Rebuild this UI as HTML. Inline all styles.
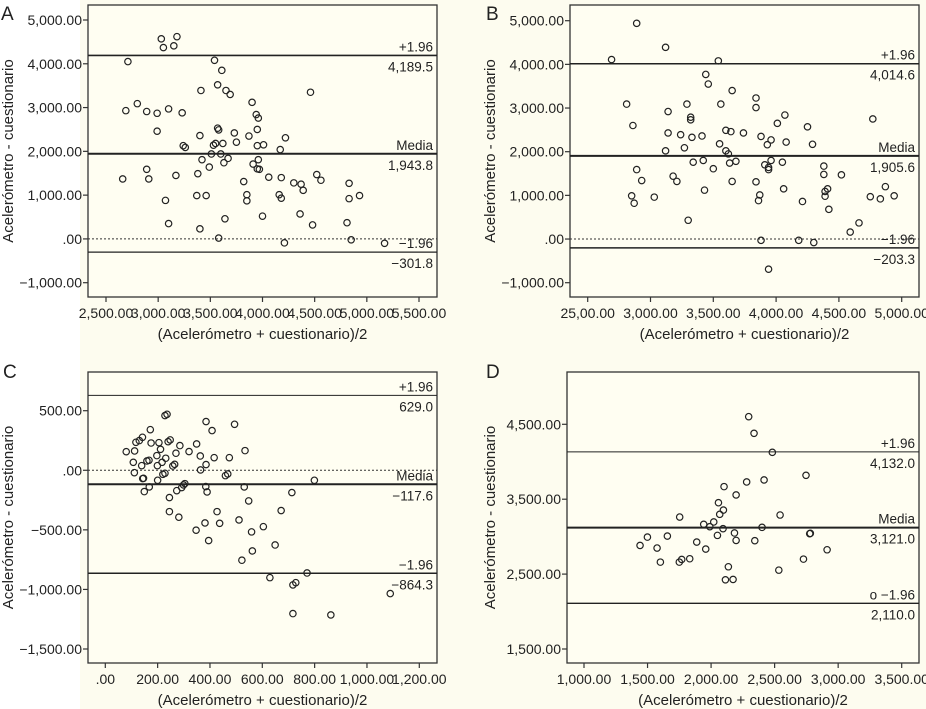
<!DOCTYPE html>
<html><head><meta charset="utf-8">
<style>
html,body{margin:0;padding:0;background:#fff;}
#wrap{position:relative;width:926px;height:709px;background:#fdfcef;overflow:hidden;}
#white{position:absolute;left:0;top:0;width:80px;height:709px;background:#fff;}
svg{position:absolute;left:0;top:0;}
text{font-family:"Liberation Sans",sans-serif;fill:#222;}
</style></head>
<body>
<div id="wrap">
<div id="white"></div>
<svg id="chart" width="926" height="709"></svg>
</div>
<script>
// Panel A data
const aMeans=[3030,3050,3150,3180,2710,3540,3610,3570,3410,3650,3690,4460,2800,2690,2890,2990,3100,3230,3900,3940,3960,2990,3400,3570,3580,3730,3870,3950,4220,3240,3260,3530,3550,3620,3750,3950,4010,4170,3510,3600,3670,3630,3420,3490,3910,3960,3950,3970,2890,2910,2660,3170,3380,3820,4060,4180,4300,4370,4520,4560,4390,4160,4180,3850,3850,3370,3460,3070,4830,4830,4930,3100,3400,3640,4000,4360,4480,4810,3580,4210,4850,5170];
const aDiffs=[4570,4370,4410,4620,4050,4080,3850,3520,3390,3390,3300,3350,3090,2930,2910,2870,2970,2880,3120,2840,2760,2460,2360,2530,2490,2420,2350,2500,2310,2130,2090,2140,2180,2180,2210,2130,2150,2040,1940,1940,1840,1740,1810,1640,1710,1810,1600,1590,1590,1370,1370,1450,1490,1310,1410,1400,1280,1250,1470,1340,1110,1010,930,1010,870,990,990,880,1270,920,990,350,230,460,520,570,320,370,20,-90,-20,-100];
const aXTicks=[2500,3000,3500,4000,4500,5000,5500];
const aYTicks=[5000,4000,3000,2000,1000,0,-1000];
const aLimits=[4189.5,1943.8,-301.8];
const aLimitLabels=["4,189.5","1,943.8","\u2212301.8"];
// Panel B data
const bMeans=[2890,3120,2690,3540,3440,3460,3650,2810,3290,3560,3840,3840,3140,3320,3320,4070,4010,2860,4770,4250,3140,3240,3330,3410,3600,3640,3740,3880,3960,3930,4080,4290,3120,3270,3550,3600,3620,3340,3420,3500,3630,3680,3910,3940,3960,4050,3940,4380,4380,4520,2890,2930,3180,3210,3650,3840,3430,2850,2870,3030,3870,3860,4060,4390,4410,4390,4420,4210,4750,4830,4870,4940,3300,4590,4660,3880,4180,4300,3940];
const bDiffs=[4940,4390,4110,4080,3770,3550,3400,3090,3090,3090,3230,3010,2920,2790,2730,2840,2650,2600,2750,2570,2430,2390,2330,2360,2490,2460,2430,2350,2270,2160,2220,2170,2020,2090,2180,2020,1950,1760,1800,1610,1740,1780,1700,1640,1800,1760,1590,1670,1480,1470,1590,1340,1440,1320,1320,1310,1120,990,820,960,1010,880,1150,1090,1150,980,680,860,970,920,1200,990,430,160,370,-30,-30,-80,-690];
const bXTicks=[2500,3000,3500,4000,4500,5000];
const bXLabels=["25,00.00","3,000.00","3,500.00","4,000.00","4,500.00","5,000.00"];
const bYTicks=[5000,4000,3000,2000,1000,0,-1000];
const bLimits=[4014.6,1905.6,-203.3];
const bLimitLabels=["4,014.6","1,905.6","\u2212203.3"];
// Panel C data
const cMeans=[80,107,112,111,117,130,142,139,146,143,149,159,167,168,172,175,197,199,200,205,211,217,220,228,231,228,236,240,248,245,245,258,265,270,273,281,285,292,299,304,320,349,347,363,364,381,384,385,389,385,395,408,416,427,437,459,468,474,494,511,522,531,534,548,559,562,604,649,672,629,713,717,728,717,771,799,862,1089];
const cDiffs=[156,67,162,-20,235,249,277,39,-67,-70,-179,78,84,-140,341,229,123,39,-84,232,176,67,-34,-25,101,459,470,240,255,-229,-347,36,50,143,-171,-394,207,-145,-123,-112,157,221,-503,120,3,-442,-137,48,-182,409,-590,333,106,-347,-445,-45,-31,106,386,-417,-755,-140,165,-257,-517,-677,-473,-627,-338,-901,-187,-962,-943,-1203,-862,-84,-1214,-1035];
const cXTicks=[0,200,400,600,800,1000,1200];
const cYTicks=[500,0,-500,-1000,-1500];
const cLimits=[629.0,-117.6,-864.3];
const cLimitLabels=["629.0","\u2212117.6","\u2212864.3"];
// Panel D data
const dMeans=[2296,2338,2482,2747,2280,2417,2102,2197,2058,2097,2068,2543,1753,1942,2021,1990,2094,2401,2184,2781,2776,1441,1499,1656,1575,2050,2197,2344,1887,1958,2913,1601,1750,1769,1832,2727,2136,2533,2113,2173];
const dDiffs=[4602,4380,4126,3819,3730,3757,3668,3557,3453,3355,3298,3289,3262,3165,3196,3133,3106,3124,3049,3044,3040,2883,2994,3008,2848,3017,2950,2946,2928,2834,2825,2660,2660,2696,2705,2700,2598,2553,2424,2429];
const dXTicks=[1000,1500,2000,2500,3000,3500];
const dYTicks=[4500,3500,2500,1500];
const dLimits=[4132.0,3121.0,2110.0];
const dLimitLabels=["4,132.0","3,121.0","2,110.0"];

const NS="http://www.w3.org/2000/svg";
const svg=document.getElementById('chart');
function mk(tag,attrs,parent){const e=document.createElementNS(NS,tag);for(const k in attrs)e.setAttribute(k,attrs[k]);(parent||svg).appendChild(e);return e;}
function fmt(v){if(v===0)return ".00";const s=Math.abs(v).toLocaleString('en-US',{minimumFractionDigits:2,maximumFractionDigits:2});return (v<0?"\u2212":"")+s;}

function panel(p){
  const g=mk('g',{});
  
  
  const sx=v=>p.xp0+(v-p.xv0)*(p.xp1-p.xp0)/(p.xv1-p.xv0);
  const sy=v=>p.yp0+(v-p.yv0)*(p.yp1-p.yp0)/(p.yv1-p.yv0);
  const box=mk('rect',{x:p.bx0,y:p.by0,width:p.bx1-p.bx0,height:p.by1-p.by0,fill:'#fffef2',stroke:'#333','stroke-width':1.3},g);
  
  
  if(p.zero){const z=mk('line',{x1:p.bx0,x2:p.bx1,y1:sy(0),y2:sy(0),stroke:'#333','stroke-width':1,'stroke-dasharray':'2,2'},g);
    }
  const names=['upper-limit-line','mean-line','lower-limit-line'];
  const tops=['+1.96','Media',p.lowTop||'\u22121.96'];
  p.limits.forEach((v,i)=>{
    const y=sy(v);
    const l=mk('line',{x1:p.bx0,x2:p.bx1,y1:y,y2:y,stroke:'#222','stroke-width':p.widths[i]},g);
    
    const t1=mk('text',{x:p.bx1-4,y:y-4,'text-anchor':'end','font-size':13.5},g);t1.textContent=tops[i];
    
    const t2=mk('text',{x:p.bx1-4,y:y+16,'text-anchor':'end','font-size':13.5},g);t2.textContent=p.limitLabels[i];
    
  });
  p.xs.forEach((x,i)=>{
    const c=mk('circle',{cx:sx(x),cy:sy(p.ys[i]),r:3.2,fill:'none',stroke:'#222','stroke-width':1.2},g);
    
  });
  p.yTicks.forEach(v=>{
    const y=sy(v);
    mk('line',{x1:p.bx0-5,x2:p.bx0,y1:y,y2:y,stroke:'#333','stroke-width':1.2},g);
    const t=mk('text',{x:p.bx0-6,y:y+5,'text-anchor':'end','font-size':14},g);t.textContent=fmt(v);
    
  });
  p.xTicks.forEach((v,i)=>{
    const x=sx(v);
    mk('line',{x1:x,x2:x,y1:p.by1,y2:p.by1+5,stroke:'#333','stroke-width':1.2},g);
    const t=mk('text',{x:x,y:p.by1+21,'text-anchor':'middle','font-size':14},g);t.textContent=p.xLabels?p.xLabels[i]:fmt(v);
    
  });
  const xt=mk('text',{x:(p.bx0+p.bx1)/2,y:p.by1+42,'text-anchor':'middle','font-size':15},g);
  xt.textContent='(Acelerómetro + cuestionario)/2';
  
  const yc=(p.by0+p.by1)/2;
  const yt=mk('text',{x:p.ytx,y:yc,'text-anchor':'middle','font-size':15,transform:`rotate(-90 ${p.ytx} ${yc})`},g);
  yt.textContent='Acelerómetro - cuestionario';
  
  const lt=mk('text',{x:p.lx,y:p.ly,'font-size':19},g);lt.textContent=p.id.toUpperCase();
  
}

panel({id:'a',bx0:88,bx1:437,by0:5,by1:297,xp0:106,xp1:419,xv0:2500,xv1:5500,yp0:20,yp1:282.7,yv0:5000,yv1:-1000,
  xs:aMeans,ys:aDiffs,xTicks:aXTicks,yTicks:aYTicks,limits:aLimits,limitLabels:aLimitLabels,widths:[1.6,2,1.3],zero:true,ytx:13,lx:1,ly:20});
panel({id:'b',bx0:570,bx1:919,by0:5,by1:297,xp0:587.7,xp1:901.7,xv0:2500,xv1:5000,yp0:20.7,yp1:282.7,yv0:5000,yv1:-1000,
  xs:bMeans,ys:bDiffs,xTicks:bXTicks,xLabels:bXLabels,yTicks:bYTicks,limits:bLimits,limitLabels:bLimitLabels,widths:[1.5,2,1.5],zero:true,ytx:495,lx:486,ly:20});
panel({id:'c',bx0:88,bx1:437,by0:372,by1:663,xp0:105.3,xp1:419.3,xv0:0,xv1:1200,yp0:410.7,yp1:649,yv0:500,yv1:-1500,
  xs:cMeans,ys:cDiffs,xTicks:cXTicks,yTicks:cYTicks,limits:cLimits,limitLabels:cLimitLabels,widths:[1,2,1.6],zero:true,ytx:13,lx:3,ly:378});
panel({id:'d',bx0:567,bx1:919,by0:372,by1:663,xp0:584,xp1:901.7,xv0:1000,xv1:3500,yp0:424.3,yp1:649,yv0:4500,yv1:1500,
  xs:dMeans,ys:dDiffs,xTicks:dXTicks,yTicks:dYTicks,limits:dLimits,limitLabels:dLimitLabels,widths:[1,2,1.3],zero:false,lowTop:'o \u22121.96',ytx:495,lx:486,ly:378});
</script>
</body></html>
